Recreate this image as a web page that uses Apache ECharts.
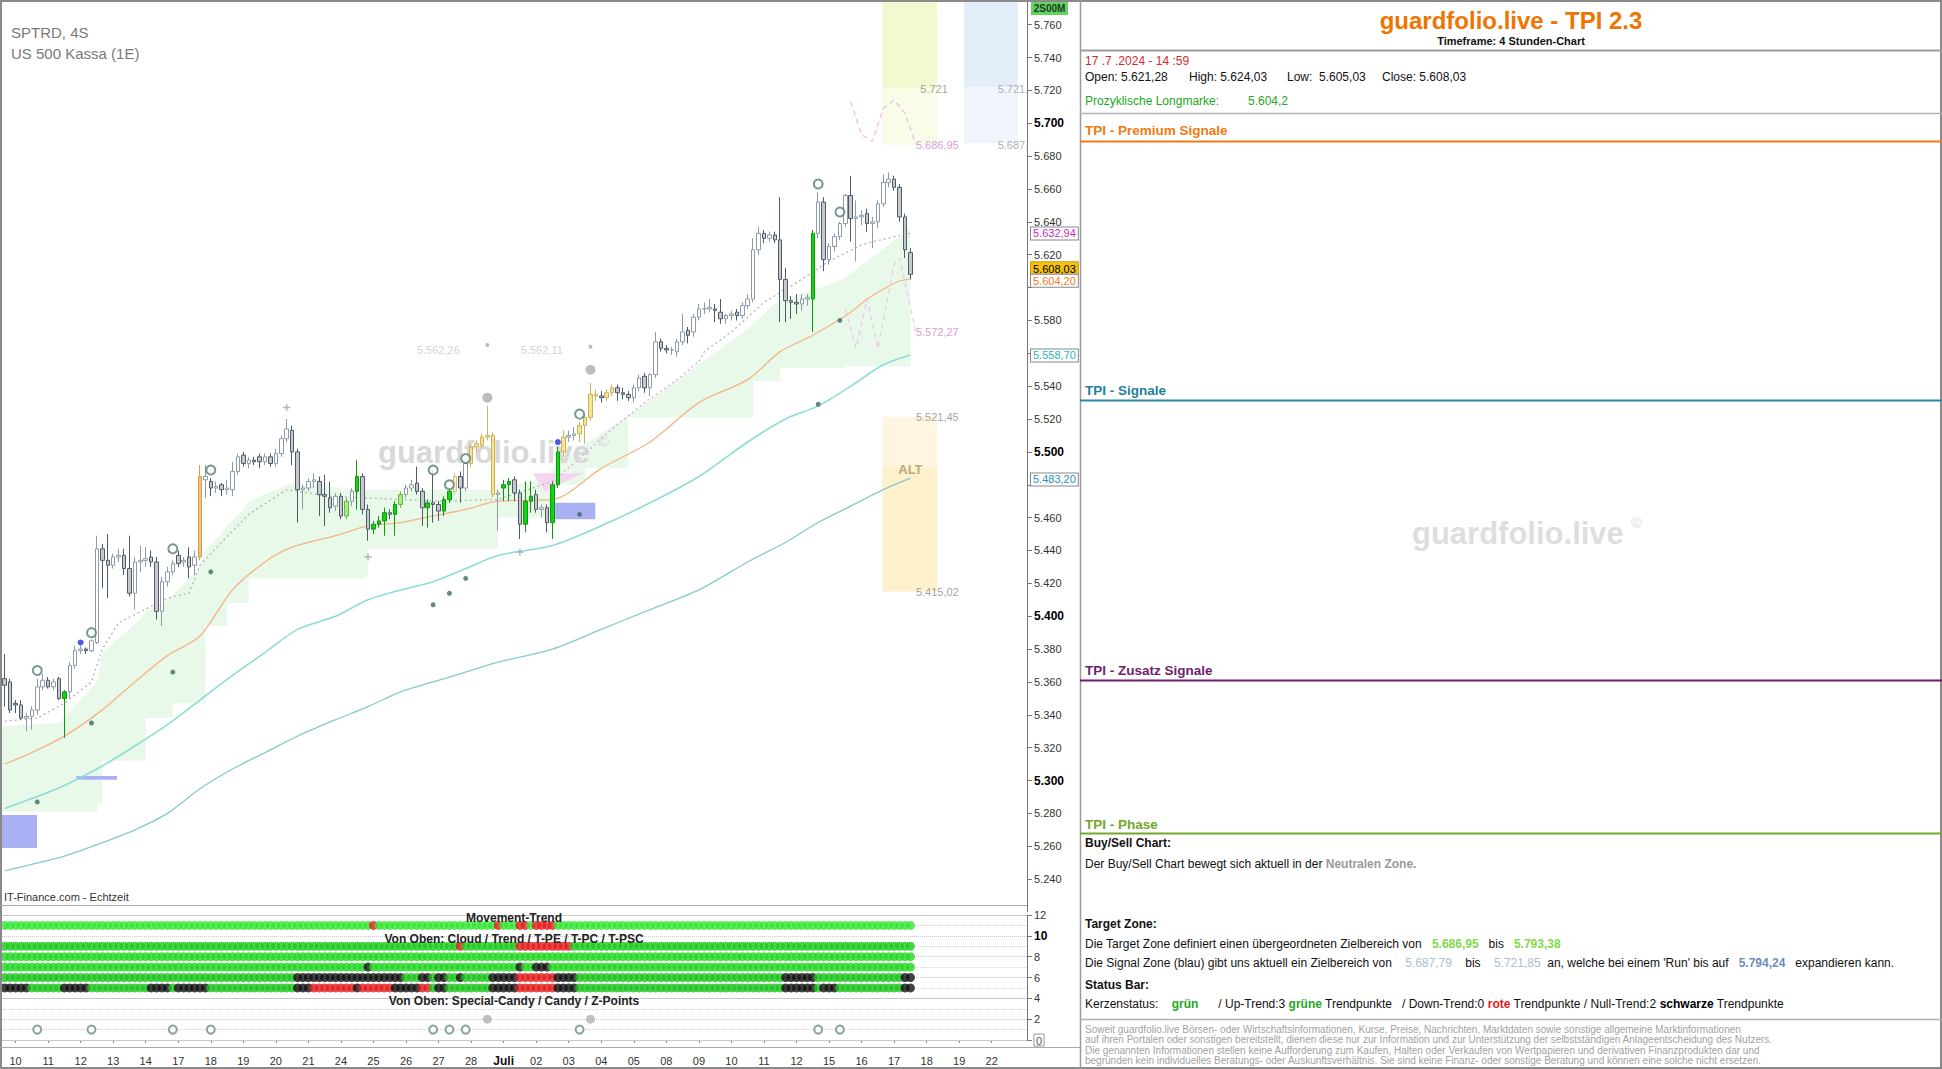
<!DOCTYPE html>
<html>
<head>
<meta charset="utf-8">
<title>SPTRD 4S - guardfolio.live TPI 2.3</title>
<script src="https://cdn.jsdelivr.net/npm/echarts/dist/echarts.min.js"></script>
<style>
html,body{margin:0;padding:0;background:#fff;overflow:hidden}
#chart{width:1942px;height:1069px}
</style>
</head>
<body>
<div id="chart"></div>
<script>
// ================= DATA =================
const dayLabels = ['10','11','12','13','14','17','18','19','20','21','24','25','26','27','28','Juli','02','03','04','05','08','09','10','11','12','15','16','17','18','19','22'];
const slotCount = 189;
const firstDaySlot = 2;
const candlesPerDay = 6;

// 4h candles [open, high, low, close]
const ohlc = [
[5362,5377,5345,5358],[5360,5362,5341,5343],[5347,5349,5341,5346],[5346,5349,5337,5338],[5338,5341,5330,5339],
[5339,5345,5331,5343],[5343,5362,5340,5357],[5357,5365,5355,5361],[5361,5363,5356,5357],[5357,5362,5355,5360],
[5362,5363,5349,5350],[5350,5355,5326,5354],[5354,5372,5350,5370],[5370,5382,5368,5379],[5379,5382,5377,5380],
[5380,5381,5377,5379],[5379,5386,5378,5385],[5384,5449,5383,5441],[5441,5444,5417,5434],[5434,5450,5411,5431],
[5431,5438,5429,5436],[5436,5441,5433,5437],[5437,5441,5425,5429],[5429,5449,5412,5414],[5414,5436,5404,5433],
[5433,5443,5427,5434],[5434,5442,5430,5435],[5436,5440,5430,5433],[5433,5436,5398,5403],[5403,5424,5394,5421],
[5421,5430,5418,5427],[5427,5434,5425,5432],[5437,5440,5430,5432],[5433,5436,5430,5434],[5436,5442,5423,5430],
[5431,5440,5425,5436],[5436,5492,5434,5485],[5483,5492,5472,5485],[5482,5484,5473,5478],[5478,5482,5475,5479],
[5480,5481,5473,5477],[5477,5483,5474,5478],[5477,5494,5473,5488],[5488,5499,5486,5497],[5498,5500,5491,5493],
[5493,5497,5490,5495],[5495,5497,5492,5494],[5497,5499,5490,5494],[5494,5499,5492,5497],[5497,5499,5491,5493],
[5493,5502,5491,5499],[5499,5510,5497,5508],[5508,5520,5506,5514],[5513,5516,5492,5500],[5500,5502,5457,5477],
[5477,5480,5465,5478],[5478,5484,5476,5482],[5482,5487,5478,5483],[5482,5485,5461,5474],[5474,5486,5455,5473],
[5472,5482,5463,5466],[5467,5475,5464,5473],[5473,5475,5459,5461],[5461,5472,5459,5470],[5470,5478,5467,5476],
[5476,5495,5465,5485],[5485,5487,5462,5465],[5465,5468,5446,5453],[5453,5458,5450,5456],[5456,5461,5454,5458],
[5458,5466,5449,5463],[5463,5465,5459,5462],[5462,5470,5449,5468],[5468,5476,5466,5474],[5474,5480,5472,5478],
[5478,5483,5476,5480],[5481,5491,5474,5476],[5476,5478,5455,5466],[5466,5471,5454,5469],[5469,5489,5457,5468],
[5468,5470,5458,5464],[5464,5473,5461,5471],[5471,5478,5469,5476],[5476,5487,5474,5485],[5485,5488,5469,5478],
[5478,5495,5476,5493],[5493,5505,5491,5503],[5503,5507,5500,5505],[5504,5511,5502,5509],[5509,5528,5507,5510],
[5510,5512,5472,5474],[5474,5477,5452,5475],[5478,5483,5470,5480],[5480,5484,5470,5482],[5483,5485,5470,5475],
[5475,5477,5447,5456],[5456,5482,5451,5470],[5470,5482,5463,5473],[5474,5477,5463,5465],[5465,5468,5460,5466],
[5466,5468,5451,5457],[5457,5482,5447,5480],[5480,5503,5478,5500],[5500,5513,5497,5509],[5509,5513,5506,5510],
[5510,5515,5507,5511],[5511,5518,5506,5516],[5516,5523,5505,5521],[5521,5542,5519,5535],[5535,5538,5531,5534],
[5534,5537,5530,5533],[5533,5538,5531,5536],[5536,5541,5534,5539],[5539,5541,5531,5536],[5536,5539,5532,5535],
[5535,5537,5531,5533],[5533,5541,5530,5539],[5539,5547,5537,5545],[5546,5548,5536,5539],[5539,5548,5534,5547],
[5547,5573,5545,5567],[5567,5569,5561,5563],[5563,5565,5560,5562],[5562,5564,5559,5562],[5561,5569,5558,5567],
[5567,5584,5565,5573],[5574,5576,5566,5571],[5573,5584,5570,5582],[5582,5590,5580,5587],[5587,5591,5584,5587],
[5587,5593,5585,5588],[5587,5590,5579,5586],[5585,5593,5578,5581],[5581,5584,5578,5583],[5583,5586,5580,5584],
[5585,5587,5580,5583],[5583,5591,5581,5589],[5589,5596,5587,5593],[5593,5630,5591,5623],[5623,5637,5620,5633],
[5633,5635,5627,5630],[5630,5634,5628,5632],[5632,5634,5627,5629],[5629,5655,5579,5605],[5605,5612,5579,5592],
[5592,5595,5581,5591],[5591,5596,5584,5590],[5590,5596,5586,5593],[5593,5596,5589,5594],[5593,5635,5573,5633],
[5633,5658,5630,5652],[5652,5655,5610,5617],[5617,5627,5614,5625],[5625,5633,5622,5631],[5631,5640,5629,5639],
[5639,5657,5637,5656],[5656,5668,5628,5642],[5642,5653,5616,5643],[5643,5647,5638,5644],[5645,5648,5634,5639],
[5639,5643,5624,5640],[5640,5653,5636,5651],[5651,5669,5649,5664],[5664,5670,5661,5666],[5666,5668,5659,5661],
[5661,5663,5640,5643],[5643,5645,5618,5623],[5621.28,5624.03,5605.03,5608.03]
];

// candle signal classes (index lists)
const greenCandles = [11,65,68,69,70,72,78,81,82,92,93,96,97,101,102,149];
const lightGreenCandles = [63,73];
const yellowCandles = [86,87,88,89,90,103,106,107,108,109,111,112];
const paleYellowCandles = [83];
const orangeCandles = [36];

// overlay lines [slot, value]
const emaLine = [[0,5310],[5,5317],[11,5327],[18,5343],[24,5360],[30,5376],[36,5388],[42,5416],[48,5433],[53,5442],[61,5449],[67,5455],[73,5457],[79,5461],[85,5465],[91,5470],[101,5471],[110,5490],[119,5506],[128,5530],[137,5544],[143,5561],[149,5571],[156,5585],[159,5593],[162,5599],[165,5604],[167,5605]];
const tealLine = [[0,5283],[5,5289],[11,5297],[17,5307],[24,5321],[30,5334],[36,5349],[42,5364],[48,5378],[54,5392],[61,5400],[67,5410],[73,5416],[79,5421],[85,5429],[91,5437],[101,5443],[110,5455],[119,5469],[128,5485],[137,5506],[144,5520],[150,5528],[156,5540],[162,5553],[167,5559]];
const tealLine2 = [[0,5245],[5,5249],[11,5254],[17,5261],[24,5270],[30,5280],[36,5295],[42,5307],[48,5317],[54,5327],[61,5337],[67,5345],[73,5354],[79,5360],[85,5366],[91,5372],[101,5380],[110,5392],[119,5404],[128,5416],[137,5433],[144,5445],[150,5457],[156,5467],[162,5477],[167,5484]];
const trailGreyA = [[0,5336],[6,5338],[11,5347],[16,5360],[18,5380],[21,5396],[27,5406],[30,5411],[34,5414],[36,5431],[40,5445],[45,5462],[52,5477],[60,5473],[80,5470],[91,5471],[101,5482]];
const trailPink = [[101,5482],[106,5496],[112,5514],[118,5530],[124,5544],[128,5555]];
const trailGreyB = [[128,5555],[129,5561],[134,5573],[140,5591],[146,5603],[152,5616],[158,5626],[164,5631],[167,5633]];
const projUpper = [[156,5713],[158,5693],[160,5689],[162,5709],[164,5714],[166,5706],[168,5687]];
const projLower = [[155,5587],[157,5563],[159,5593],[161,5563],[164,5614],[165,5618],[166,5603],[168,5573]];

// cloud band
const cloudIdx = [-1,10,17,18,25,26,30,31,36,37,40,41,44,45,53,66,67,90,91,100,101,107,115,137,138,142,143,154,155,167];
const cloudTop = [5333,5335,5360,5378,5398,5403,5410,5413,5430,5440,5450,5455,5465,5470,5481,5477,5477,5477,5477,5485,5490,5505,5522,5575,5578,5590,5592,5604,5606,5636];
const cloudBot = [5281,5281,5286,5312,5312,5338,5338,5347,5347,5394,5394,5408,5408,5423,5423,5424,5441,5441,5460,5460,5480,5490,5521,5521,5543,5543,5551,5551,5552,5552];

// zones [slotFrom, slotTo] and levels [low, mid, high]
const targetZoneSpan = [161.8, 171.9];
const targetZoneLevels = [5686.95, 5721.0, 5793.38];
const signalZoneSpan = [176.9, 186.8];
const signalZoneLevels = [5687.79, 5721.85, 5794.24];
const altZoneSpan = [161.8, 171.9];
const altZoneLevels = [5415.02, 5491.0, 5521.45];
const blueBoxSpans = [[-1, 5.95], [13.2, 20.7], [101.5, 108.9]];
const blueBoxLevels = [[5259, 5279], [5300.5, 5302.8], [5459, 5469]];
const pinkTriangle = [[97.4, 5487], [106.6, 5487], [99.6, 5476]];

// markers [slot, value]
const circleMarks = [[6,5367],[16,5390],[31,5441],[38,5489],[79,5489],[82,5480],[85,5496],[106,5523],[150,5663],[154,5646]];
const blueDots = [[14,5384],[102,5506]];
const greyBigDots = [[89,5533],[108,5550]];
const greySmallDots = [[89,5565],[108,5564]];
const tealDots = [[6,5287],[16,5335],[31,5366],[38,5427],[79,5407],[82,5414],[85,5423],[106,5462],[150,5529],[154,5580]];
const plusMarks = [[52,5527],[67,5436],[95,5439]];

// chart annotations [slot, value, text]
const dimLabels = [[84,5562,'5.562,26'],[103,5562,'5.562,11']];
const zoneLabelsLeft = [[174,5721,'5.721'],[176,5521.45,'5.521,45'],[176,5415.02,'5.415,02']];
const zoneLabelsRight = [[183,5721,'5.721,'],[183,5687,'5.687,']];
const projLabels = [[176,5687,'5.686,95'],[176,5573,'5.572,27']];
const altLabel = [[167,5489,'ALT']];

// right axis value tags
const valueTags = [5632.94, 5608.03, 5604.20, 5558.70, 5483.20];

// status bar runs [fromSlot, toSlot]
const movementRed = [[68,68],[91,91],[95,96],[98,101]];
const cloudRed = [[84,84],[95,104]];
const tpeBlack = [[67,67],[95,95],[98,100]];
const tpcBlack = [[54,73],[77,78],[80,81],[84,84],[90,94],[102,105],[144,149],[166,167]];
const tpcRed = [[95,101]];
const tpscBlack = [[0,4],[11,15],[27,30],[32,37],[54,56],[65,65],[72,76],[80,81],[90,94],[102,105],[144,149],[151,153],[166,167]];
const tpscRed = [[57,64],[66,71],[77,78],[95,101]];
const specialCandy = [89,108];
const candyMarks = [6,16,31,38,79,82,85,106,150,154];

// ================= BUILD =================
const SANS = '"Liberation Sans", Arial, Helvetica, sans-serif';
function de(v, d) {
  const s = v.toFixed(d);
  const parts = s.split('.');
  const int = parts[0].replace(/\B(?=(\d{3})+(?!\d))/g, '.');
  return parts[1] ? int + ',' + parts[1] : int;
}
const categories = Array.from({length: slotCount}, (_, i) => 'c' + i);

const STY = {
  G: {color:'#14d214', color0:'#14d214', borderColor:'#0b9a0b', borderColor0:'#0b9a0b'},
  g: {color:'#a8ee7e', color0:'#a8ee7e', borderColor:'#64b846', borderColor0:'#64b846'},
  Y: {color:'#f6e48e', color0:'#f6e48e', borderColor:'#cbb25a', borderColor0:'#cbb25a'},
  y: {color:'#faf2c0', color0:'#faf2c0', borderColor:'#d0c07a', borderColor0:'#d0c07a'},
  O: {color:'#f7c378', color0:'#f7c378', borderColor:'#dc9a44', borderColor0:'#dc9a44'}
};
const tagOf = {};
greenCandles.forEach(i => tagOf[i] = 'G');
lightGreenCandles.forEach(i => tagOf[i] = 'g');
yellowCandles.forEach(i => tagOf[i] = 'Y');
paleYellowCandles.forEach(i => tagOf[i] = 'y');
orangeCandles.forEach(i => tagOf[i] = 'O');

const candleData = ohlc.map((d, i) => {
  const item = {value: [d[0], d[3], d[2], d[1]]};
  if (tagOf[i]) item.itemStyle = STY[tagOf[i]];
  return item;
});

function inRuns(i, runs) { return runs.some(r => i >= r[0] && i <= r[1]); }

const statusRows = [
  {v: 11, base: '#34e634', red: movementRed, black: []},
  {v: 9, base: '#1ccb1c', red: cloudRed, black: []},
  {v: 8, base: '#22d822', red: [], black: []},
  {v: 7, base: '#22d622', red: [], black: tpeBlack},
  {v: 6, base: '#1bc41b', red: tpcRed, black: tpcBlack},
  {v: 5, base: '#1bc41b', red: tpscRed, black: tpscBlack}
];
const statusData = [];
statusRows.forEach(r => {
  for (let i = 0; i < ohlc.length; i++) {
    let c = r.base;
    if (inRuns(i, r.black)) c = '#111111';
    if (inRuns(i, r.red)) c = '#e41c1c';
    statusData.push({value: [i, r.v], itemStyle: {color: c}});
  }
});

function renderShapes(params, api) {
  const a = api.coord([0, 5500]), b = api.coord([1, 5500]);
  const step = b[0] - a[0];
  const X = i => a[0] + step * i;
  const Y = v => api.coord([0, v])[1];
  const kids = [];
  const top = cloudIdx.map((i, k) => [X(i), Y(cloudTop[k])]);
  const bot = [];
  for (let k = 0; k < cloudIdx.length; k++) {
    bot.push([X(cloudIdx[k]), Y(cloudBot[k])]);
    if (k < cloudIdx.length - 1) bot.push([X(cloudIdx[k + 1]), Y(cloudBot[k])]);
  }
  kids.push({type: 'polygon', shape: {points: top.concat(bot.reverse())}, style: {fill: '#e9f9e9'}});
  const rect = (i0, i1, v0, v1, fill) => ({type: 'rect', shape: {x: X(i0), y: Y(v1), width: X(i1) - X(i0), height: Y(v0) - Y(v1)}, style: {fill}});
  kids.push(rect(targetZoneSpan[0], targetZoneSpan[1], targetZoneLevels[1], targetZoneLevels[2], '#f2f9d0'));
  kids.push(rect(targetZoneSpan[0], targetZoneSpan[1], targetZoneLevels[0], targetZoneLevels[1], '#f9fce7'));
  kids.push(rect(signalZoneSpan[0], signalZoneSpan[1], signalZoneLevels[1], signalZoneLevels[2], '#e4edfa'));
  kids.push(rect(signalZoneSpan[0], signalZoneSpan[1], signalZoneLevels[0], signalZoneLevels[1], '#f0f5fd'));
  kids.push(rect(altZoneSpan[0], altZoneSpan[1], altZoneLevels[1], altZoneLevels[2], '#fef6e0'));
  kids.push(rect(altZoneSpan[0], altZoneSpan[1], altZoneLevels[0], altZoneLevels[1], '#fdf0ca'));
  blueBoxSpans.forEach((s, k) => kids.push(rect(s[0], s[1], blueBoxLevels[k][0], blueBoxLevels[k][1], '#aab0f4')));
  kids.push({type: 'polygon', shape: {points: pinkTriangle.map(p => [X(p[0]), Y(p[1])])}, style: {fill: '#f7d4f2'}});
  return {type: 'group', children: kids};
}

function lineSeries(data, color, width, type, smooth) {
  return {type: 'line', xAxisIndex: 0, yAxisIndex: 0, data, symbol: 'none', smooth: smooth ? 0.3 : false, z: 3, silent: true,
    lineStyle: {color, width, type: type || 'solid'}};
}
function scatter(data, opts) {
  return Object.assign({type: 'scatter', xAxisIndex: 0, yAxisIndex: 0, data, z: 6, silent: true}, opts);
}
function textSeries(list, label) {
  return {type: 'scatter', xAxisIndex: 0, yAxisIndex: 0, z: 7, silent: true, symbolSize: 1,
    itemStyle: {color: 'rgba(0,0,0,0)'},
    data: list.map(d => ({value: [d[0], d[1]], name: d[2]})),
    label: Object.assign({show: true, formatter: p => p.name, distance: 0, fontFamily: SANS, fontSize: 11}, label)};
}

const tagStyles = [
  {color: '#c02cc0', backgroundColor: '#fff', borderColor: '#888'},
  {color: '#000', backgroundColor: '#f4c20f', borderColor: '#c89a00', verticalAlign: 'bottom'},
  {color: '#ef7b22', backgroundColor: '#fff', borderColor: '#888'},
  {color: '#2fb3ad', backgroundColor: '#fff', borderColor: '#888'},
  {color: '#2d8fb0', backgroundColor: '#fff', borderColor: '#888'}
];
const markLineData = valueTags.map((v, k) => ({
  yAxis: v,
  label: Object.assign({show: true, position: 'end', distance: 4, formatter: de(v, 2), fontSize: 11, fontFamily: SANS,
    borderWidth: 1, padding: [1, 2, 0, 2], opacity: 1}, tagStyles[k])
}));

// ---------- graphic (frame, texts) ----------
const G = [];
function T(x, y, text, o) {
  o = o || {};
  const al = o.align || 'left';
  const st = Object.assign({text, fill: '#111', fontSize: 12, fontFamily: SANS, align: al, textAlign: al, verticalAlign: 'middle', textVerticalAlign: 'middle'}, o);
  G.push({type: 'text', x, y, z: o.z != null ? o.z : 100, silent: true, style: st});
}
function L(x1, y1, x2, y2, stroke, w) {
  G.push({type: 'line', z: 100, silent: true, shape: {x1, y1, x2, y2}, style: {stroke, lineWidth: w || 1}});
}
// watermarks (above cloud, below candles)
T(378, 452, 'guardfolio.live', {fill: '#d8d8d8', fontSize: 31, fontWeight: 'bold', z: 2});
T(598, 441, '©', {fill: '#d8d8d8', fontSize: 15, z: 2});
T(1412, 533, 'guardfolio.live', {fill: '#dedede', fontSize: 31, fontWeight: 'bold', z: 2});
T(1631, 522, '©', {fill: '#dedede', fontSize: 15, z: 2});
// frame
G.push({type: 'rect', z: 100, silent: true, shape: {x: 1, y: 1, width: 1940, height: 1067}, style: {fill: 'none', stroke: '#8a8a8a', lineWidth: 2}});
L(1080.5, 0, 1080.5, 1069, '#9a9a9a', 1.5);
L(0, 905.5, 1027, 905.5, '#a8a8a8', 1);
L(0, 1047.5, 1080, 1047.5, '#a8a8a8', 1);
// left texts
T(11, 32, 'SPTRD, 4S', {fill: '#7a7a7a', fontSize: 15});
T(11, 53, 'US 500 Kassa (1E)', {fill: '#7a7a7a', fontSize: 15});
T(4, 897, 'IT-Finance.com - Echtzeit', {fill: '#333', fontSize: 11});
// status panel titles
T(514, 918, 'Movement-Trend', {fontSize: 12, fontWeight: 'bold', align: 'center', fill: '#222'});
T(514, 939, 'Von Oben: Cloud / Trend / T-PE / T-PC / T-PSC', {fontSize: 12, fontWeight: 'bold', align: 'center', fill: '#222'});
T(514, 1001, 'Von Oben: Special-Candy / Candy / Z-Points', {fontSize: 12, fontWeight: 'bold', align: 'center', fill: '#222'});
// 2S00M badge
G.push({type: 'rect', z: 100, silent: true, shape: {x: 1031, y: 2, width: 37, height: 13}, style: {fill: '#62d262'}});
T(1049.5, 8.5, '2S00M', {fontSize: 10, fontWeight: 'bold', fill: '#1d3d1d', align: 'center'});
// right panel
T(1511, 20, 'guardfolio.live - TPI 2.3', {fill: '#f07400', fontSize: 24, fontWeight: 'bold', align: 'center'});
T(1511, 41, 'Timeframe: 4 Stunden-Chart', {fontSize: 11, fontWeight: 'bold', align: 'center'});
L(1080, 50.5, 1942, 50.5, '#9c9c9c', 2);
T(1085, 61, '17 .7 .2024 - 14 :59', {fill: '#d42a2a', fontSize: 12});
T(1085, 77, 'Open: 5.621,28', {fontSize: 12});
T(1189, 77, 'High: 5.624,03', {fontSize: 12});
T(1287, 77, 'Low:  5.605,03', {fontSize: 12});
T(1382, 77, 'Close: 5.608,03', {fontSize: 12});
T(1085, 101, 'Prozyklische Longmarke:', {fill: '#22a822', fontSize: 12});
T(1248, 101, '5.604,2', {fill: '#22a822', fontSize: 12});
L(1080, 113.5, 1942, 113.5, '#b4b4b4', 1.5);
T(1085, 130, 'TPI - Premium Signale', {fill: '#ef7a11', fontSize: 13.5, fontWeight: 'bold'});
L(1080, 141.5, 1942, 141.5, '#ef7a11', 2);
T(1085, 390, 'TPI - Signale', {fill: '#207f9e', fontSize: 13.5, fontWeight: 'bold'});
L(1080, 400.5, 1942, 400.5, '#2a86a4', 2);
T(1085, 670, 'TPI - Zusatz Signale', {fill: '#6c1f6c', fontSize: 13.5, fontWeight: 'bold'});
L(1080, 680.5, 1942, 680.5, '#6c1f6c', 2);
T(1085, 824, 'TPI - Phase', {fill: '#70a626', fontSize: 13.5, fontWeight: 'bold'});
L(1080, 833.5, 1942, 833.5, '#74a82a', 2);
T(1085, 843, 'Buy/Sell Chart:', {fontSize: 12, fontWeight: 'bold'});
const R = {
  n: {fill: '#111', fontSize: 12, fontFamily: SANS},
  gz: {fill: '#9a9a9a', fontSize: 12, fontFamily: SANS, fontWeight: 'bold'},
  tg: {fill: '#7fd84a', fontSize: 12, fontFamily: SANS, fontWeight: 'bold'},
  sb: {fill: '#a9bdd6', fontSize: 12, fontFamily: SANS},
  sd: {fill: '#6f8cba', fontSize: 12, fontFamily: SANS, fontWeight: 'bold'},
  g: {fill: '#1fa81f', fontSize: 12, fontFamily: SANS, fontWeight: 'bold'},
  r: {fill: '#e02020', fontSize: 12, fontFamily: SANS, fontWeight: 'bold'},
  k: {fill: '#000', fontSize: 12, fontFamily: SANS, fontWeight: 'bold'}
};
T(1085, 864, '{n|Der Buy/Sell Chart bewegt sich aktuell in der }{gz|Neutralen Zone.}', {rich: R});
T(1085, 924, 'Target Zone:', {fontSize: 12, fontWeight: 'bold'});
T(1085, 944, '{n|Die Target Zone definiert einen übergeordneten Zielbereich von   }{tg|5.686,95}{n|   bis   }{tg|5.793,38}', {rich: R});
T(1085, 963, "{n|Die Signal Zone (blau) gibt uns aktuell ein Zielbereich von    }{sb|5.687,79}{n|    bis    }{sb|5.721,85}{n|  an, welche bei einem 'Run' bis auf   }{sd|5.794,24}{n|   expandieren kann.}", {rich: R});
T(1085, 985, 'Status Bar:', {fontSize: 12, fontWeight: 'bold'});
T(1085, 1004, '{n|Kerzenstatus:    }{g|grün}{n|      / Up-Trend:3 }{g|grüne}{n| Trendpunkte   / Down-Trend:0 }{r|rote}{n| Trendpunkte / Null-Trend:2 }{k|schwarze}{n| Trendpunkte}', {rich: R});
L(1080, 1019.5, 1942, 1019.5, '#b0b0b0', 1.5);
const disclaimer = [
  'Soweit guardfolio.live Börsen- oder Wirtschaftsinformationen, Kurse, Preise, Nachrichten, Marktdaten sowie sonstige allgemeine Marktinformationen',
  'auf ihren Portalen oder sonstigen bereitstellt, dienen diese nur zur Information und zur Unterstützung der selbstständigen Anlageentscheidung des Nutzers.',
  'Die genannten Informationen stellen keine Aufforderung zum Kaufen, Halten oder Verkaufen von Wertpapieren und derivativen Finanzprodukten dar und',
  'begründen kein individuelles Beratungs- oder Auskunftsverhältnis. Sie sind keine Finanz- oder sonstige Beratung und können eine solche nicht ersetzen.'
];
disclaimer.forEach((s, k) => T(1085, 1029.5 + k * 10.4, s, {fill: '#a2a2a2', fontSize: 10}));

// ---------- option ----------
const dayTickInterval = idx => idx >= firstDaySlot && (idx - firstDaySlot) % candlesPerDay === 0 && (idx - firstDaySlot) / candlesPerDay < dayLabels.length;
const coveredByTag = v => valueTags.some(t => Math.abs(t - v) < 6);

const option = {
  animation: false,
  backgroundColor: '#ffffff',
  grid: [
    {left: 2, top: 0, width: 1025, height: 912},
    {left: 2, top: 915, width: 1025, height: 125}
  ],
  xAxis: [
    {type: 'category', gridIndex: 0, data: categories, show: false, boundaryGap: true},
    {type: 'category', gridIndex: 1, data: categories, boundaryGap: true,
      axisLine: {show: false},
      axisTick: {show: true, interval: dayTickInterval, alignWithLabel: true, length: 3, inside: false, lineStyle: {color: '#888'}},
      axisLabel: {interval: dayTickInterval, margin: 15, fontSize: 11, fontFamily: SANS, color: '#333',
        formatter: (val, idx) => { const s = dayLabels[(idx - firstDaySlot) / candlesPerDay]; return s === 'Juli' ? '{b|Juli}' : s; },
        rich: {b: {fontWeight: 'bold', fontSize: 12, fontFamily: SANS, color: '#111'}}},
      splitLine: {show: false}}
  ],
  yAxis: [
    {type: 'value', gridIndex: 0, position: 'right', min: 5220, max: 5775, interval: 20,
      axisLine: {show: true, lineStyle: {color: '#777'}},
      axisTick: {show: true, length: 5, lineStyle: {color: '#777'}},
      axisLabel: {margin: 7, fontSize: 11, fontFamily: SANS, color: '#333', showMinLabel: false, showMaxLabel: false,
        formatter: v => { if (coveredByTag(v)) return ''; const s = de(v, 0); return v % 100 === 0 ? '{b|' + s + '}' : s; },
        rich: {b: {fontWeight: 'bold', fontSize: 12, fontFamily: SANS, color: '#000'}}},
      splitLine: {show: false}},
    {type: 'value', gridIndex: 1, position: 'right', min: 0, max: 12, interval: 2,
      axisLine: {show: true, lineStyle: {color: '#777'}},
      axisTick: {show: true, length: 5, lineStyle: {color: '#777'}},
      axisLabel: {margin: 7, fontSize: 11, fontFamily: SANS, color: '#333',
        formatter: v => v === 10 ? '{b|10}' : (v === 0 ? '{x|0}' : String(v)),
        rich: {b: {fontWeight: 'bold', fontSize: 12, fontFamily: SANS, color: '#000'},
               x: {borderColor: '#999', borderWidth: 1, padding: [1, 2, 0, 2], fontSize: 11, fontFamily: SANS, color: '#555'}}},
      splitLine: {show: true, lineStyle: {type: 'dotted', color: '#c4c4c4'}},
      minorTick: {show: false, splitNumber: 2},
      minorSplitLine: {show: true, lineStyle: {type: 'dotted', color: '#d4d4d4'}}}
  ],
  series: [
    {type: 'custom', xAxisIndex: 0, yAxisIndex: 0, z: 1, silent: true, renderItem: renderShapes, data: [[0, 5500]], clip: false},
    lineSeries(tealLine2, '#86caca', 1.3, 'solid', true),
    lineSeries(tealLine, '#8edcd6', 1.6, 'solid', true),
    lineSeries(emaLine, '#f3b487', 1.3, 'solid', true),
    lineSeries(trailGreyA, '#b4b4b4', 1.3, [2, 3], false),
    lineSeries(trailPink, '#e7a6e4', 1.3, [2, 3], false),
    lineSeries(trailGreyB, '#b4b4b4', 1.3, [2, 3], false),
    lineSeries(projUpper, '#eeb8ed', 1.3, [5, 4], false),
    lineSeries(projLower, '#f0c2ef', 1.2, [5, 4], false),
    {type: 'candlestick', xAxisIndex: 0, yAxisIndex: 0, z: 5, silent: true, barWidth: 4, data: candleData,
      itemStyle: {color: '#ffffff', color0: '#c9c9c9', borderColor: '#8d9aab', borderColor0: '#4c5b6c', borderWidth: 1},
      markLine: {silent: true, symbol: ['none', 'none'], animation: false,
        lineStyle: {color: 'rgba(0,0,0,0)', width: 0, type: 'solid'}, data: markLineData}},
    scatter(circleMarks, {symbol: 'circle', symbolSize: 9, itemStyle: {color: '#ffffff', borderColor: '#557f78', borderWidth: 2}}),
    scatter(blueDots, {symbol: 'circle', symbolSize: 6, itemStyle: {color: '#1a2fe6'}}),
    scatter(greyBigDots, {symbol: 'circle', symbolSize: 10, itemStyle: {color: '#acacac'}}),
    scatter(greySmallDots, {symbol: 'circle', symbolSize: 4, itemStyle: {color: '#a8a8a8'}}),
    scatter(tealDots, {symbol: 'circle', symbolSize: 5, itemStyle: {color: '#3e6c64'}}),
    scatter(plusMarks, {symbol: 'path://M-1,-5 L1,-5 L1,-1 L5,-1 L5,1 L1,1 L1,5 L-1,5 L-1,1 L-5,1 L-5,-1 L-1,-1 Z', symbolSize: 7, itemStyle: {color: '#a0a0a0'}}),
    textSeries(dimLabels, {position: 'left', color: '#c8c8c8'}),
    textSeries(zoneLabelsLeft, {position: 'left', color: '#8a8a8a'}),
    textSeries(zoneLabelsRight, {position: 'right', color: '#9a9a9a'}),
    textSeries(projLabels, {position: 'left', color: '#d07fd0'}),
    textSeries(altLabel, {position: 'inside', color: '#a8946c', fontWeight: 'bold', fontSize: 13}),
    // status panel
    {type: 'scatter', xAxisIndex: 1, yAxisIndex: 1, z: 5, silent: true, symbol: 'circle', symbolSize: 9, data: statusData},
    {type: 'scatter', xAxisIndex: 1, yAxisIndex: 1, z: 5, silent: true, symbol: 'circle', symbolSize: 9,
      itemStyle: {color: '#b0b0b0'}, data: specialCandy.map(i => [i, 2])},
    {type: 'scatter', xAxisIndex: 1, yAxisIndex: 1, z: 5, silent: true, symbol: 'circle', symbolSize: 8,
      itemStyle: {color: '#ffffff', borderColor: '#6b8d89', borderWidth: 2}, data: candyMarks.map(i => [i, 1])},
    {type: 'line', xAxisIndex: 1, yAxisIndex: 1, data: [], silent: true,
      markLine: {silent: true, symbol: ['none', 'none'], label: {show: false}, lineStyle: {color: '#c8c8c8', type: 'solid', width: 1},
        data: [{yAxis: 12}, {yAxis: 4}, {yAxis: 0}]}}
  ],
  graphic: {elements: G}
};

const chart = echarts.init(document.getElementById('chart'), null, {renderer: 'svg', width: 1942, height: 1069});
chart.setOption(option);
</script>
</body>
</html>
